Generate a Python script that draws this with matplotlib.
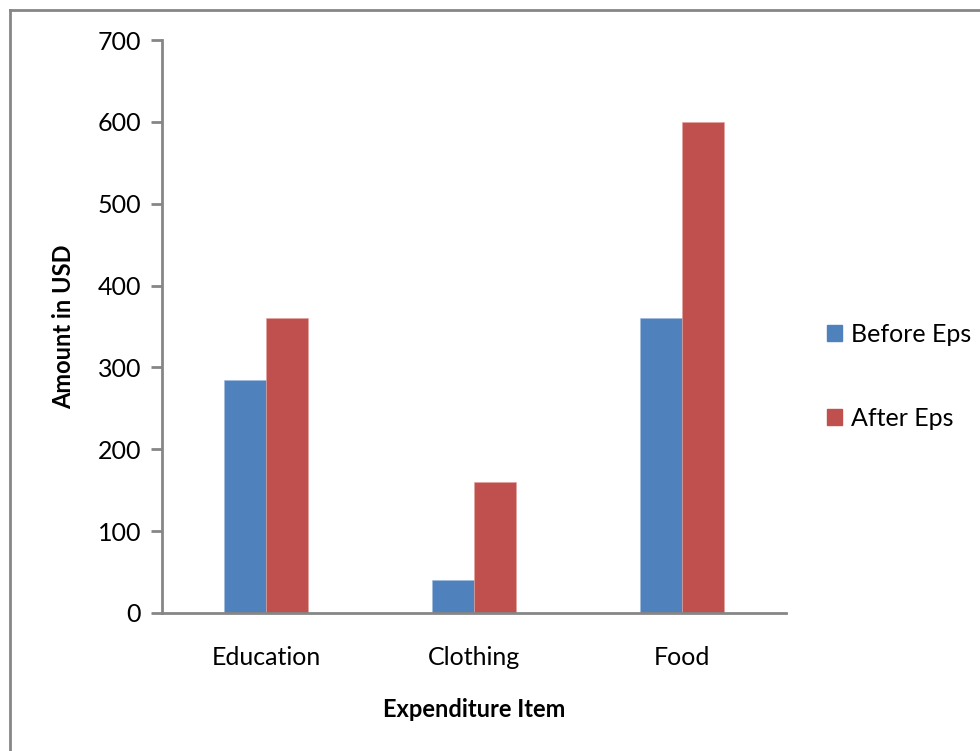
import matplotlib.pyplot as plt
import numpy as np
from matplotlib.lines import Line2D
from matplotlib.patches import Patch

categories = ["Education", "Clothing", "Food"]
before_eps = [285, 40, 360]
after_eps = [360, 160, 600]
y_ticks = [0, 100, 200, 300, 400, 500, 600, 700]

plt.rcParams['font.family'] = ['Lato', 'DejaVu Sans']

blue = "#4F81BD"
red = "#C0504D"
axis_grey = "#868686"

fig = plt.figure(figsize=(9.8, 7.51), dpi=100)
ax = fig.add_axes([0.1653, 0.1838, 0.6367, 0.7629])

x = np.arange(len(categories))
w = 0.2
ax.bar(x - w / 2, before_eps, w, color=blue, edgecolor="#9db8da", linewidth=0.4, label="Before Eps")
ax.bar(x + w / 2, after_eps, w, color=red, edgecolor="#e0a09e", linewidth=0.4, label="After Eps")

ax.set_xlim(-0.5, 2.5)
ax.set_ylim(0, 700)
ax.set_yticks(y_ticks)
ax.set_xticks(x)
ax.set_xticklabels(categories)
ax.tick_params(axis="x", length=0, pad=24, labelsize=18)
ax.tick_params(axis="y", length=8, width=2, color=axis_grey, pad=7, labelsize=18)

for side in ["top", "right"]:
    ax.spines[side].set_visible(False)
for side in ["left", "bottom"]:
    ax.spines[side].set_color(axis_grey)
    ax.spines[side].set_linewidth(2)

ax.set_ylabel("Amount in USD", fontsize=17, fontweight="bold", labelpad=16)
ax.set_xlabel("Expenditure Item", fontsize=17, fontweight="bold", labelpad=21)

handles = [Patch(color=blue), Patch(color=red)]
fig.legend(handles, ["Before Eps", "After Eps"], loc="center left",
           bbox_to_anchor=(0.821, 0.499), frameon=False, fontsize=18,
           handlelength=0.6, handleheight=0.6, handletextpad=0.35,
           labelspacing=2.45)

# outer border (top and left only, as in the cropped reference)
fig.add_artist(Line2D([10 / 980, 1.0], [1 - 10 / 751, 1 - 10 / 751],
                      transform=fig.transFigure, color=axis_grey, linewidth=2))
fig.add_artist(Line2D([10 / 980, 10 / 980], [0.0, 1 - 10 / 751],
                      transform=fig.transFigure, color=axis_grey, linewidth=2))

fig.savefig("out.png", dpi=100)
